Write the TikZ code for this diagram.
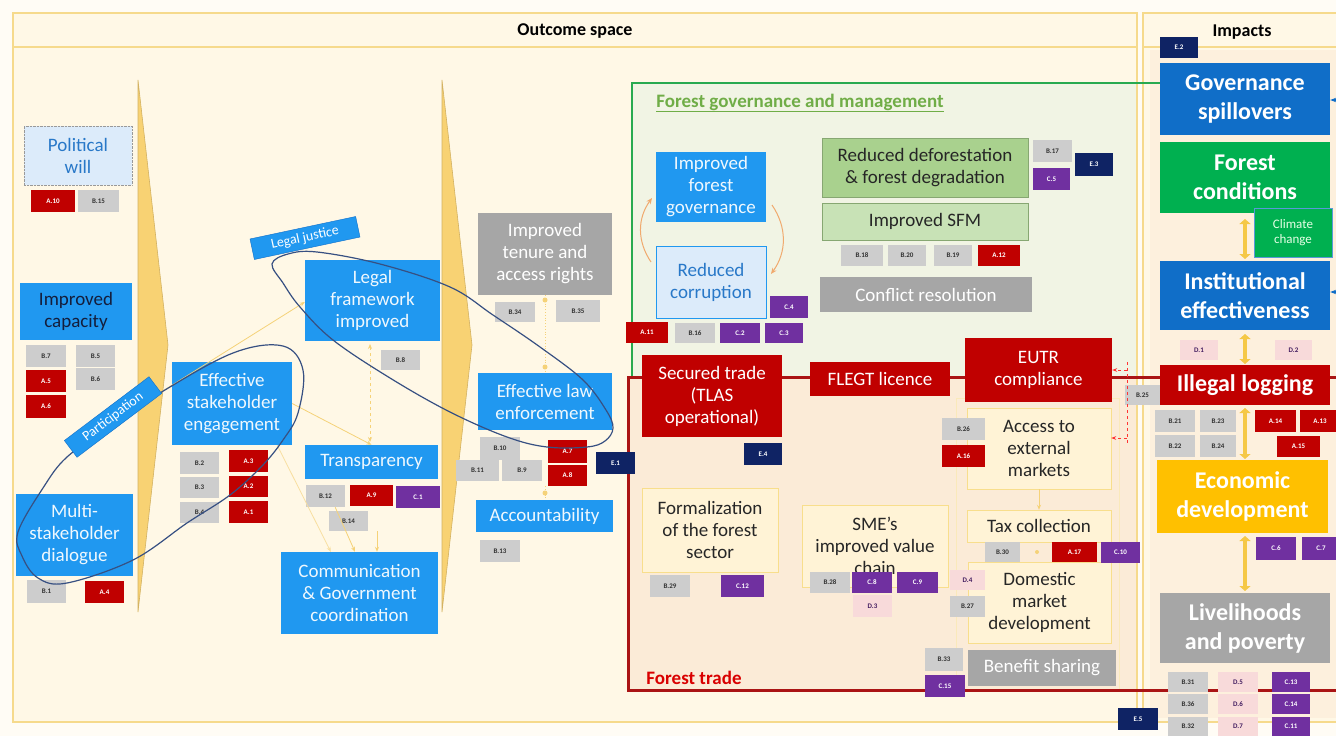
\documentclass[tikz,border=0pt]{standalone}
\usepackage{fontspec}
\setmainfont{Carlito}
\usetikzlibrary{arrows.meta,calc}
\definecolor{bgc}{RGB}{255,252,245}
\definecolor{panel}{RGB}{255,248,230}
\definecolor{gold}{RGB}{246,218,140}
\definecolor{chev}{RGB}{248,210,115}
\definecolor{cblue}{RGB}{32,152,240}
\definecolor{lblue}{RGB}{220,235,250}
\definecolor{pwblue}{RGB}{40,120,200}
\definecolor{navytxt}{RGB}{20,30,60}
\definecolor{tgray}{RGB}{205,205,205}
\definecolor{tred}{RGB}{192,0,0}
\definecolor{tpurple}{RGB}{112,48,160}
\definecolor{tnavy}{RGB}{15,35,100}
\definecolor{tpink}{RGB}{248,218,218}
\definecolor{bgray}{RGB}{166,166,166}
\definecolor{mgreen}{RGB}{169,209,142}
\definecolor{lgreen}{RGB}{200,226,182}
\definecolor{ggreen}{RGB}{40,170,80}
\definecolor{titlegreen}{RGB}{112,173,71}
\definecolor{greenbg}{RGB}{241,244,228}
\definecolor{peach}{RGB}{251,235,215}
\definecolor{cream}{RGB}{255,243,214}
\definecolor{creamb}{RGB}{248,222,140}
\definecolor{iblue}{RGB}{16,110,200}
\definecolor{igreen}{RGB}{0,176,80}
\definecolor{iyellow}{RGB}{255,192,0}
\definecolor{ellc}{RGB}{55,80,130}
\definecolor{arr}{RGB}{245,210,120}
\definecolor{orng}{RGB}{240,170,110}
\definecolor{redline}{RGB}{170,20,20}
\definecolor{dyel}{RGB}{245,200,70}
\newcommand\bx[7]{\node[#6, minimum width={(#4-#2)*1pt}, minimum height={(#5-#3)*1pt}] (#1) at ({(#2+#4)/2},{(#3+#5)/2}) {#7};}
\begin{document}
\begin{tikzpicture}[x=1pt,y=-1pt,
  box/.style={inner sep=0pt, align=center, font=\fontsize{19}{22}\selectfont},
  bl/.style={box, fill=cblue, text=white!93!cblue},
  crm/.style={box, fill=cream, draw=creamb, text=black!85},
  ib/.style={inner sep=0pt, align=center, text=white, font=\fontsize{24}{29}\selectfont\bfseries},
  tag/.style={inner sep=0pt, font=\fontsize{7}{8}\selectfont\bfseries},
  tg/.style={tag, fill=tgray, text=black!80},
  tr/.style={tag, fill=tred, text=white},
  tp/.style={tag, fill=tpurple, text=white},
  tn/.style={tag, fill=tnavy, text=white},
  tk/.style={tag, fill=tpink, text=tpurple!60!black},
  lab/.style={fill=cblue, draw=iblue, text=white, inner sep=0pt, minimum height=21pt, font=\fontsize{14}{16}\selectfont},
  ya/.style={arr, line width=0.8pt, -{Stealth[length=5pt,width=4pt]}},
  oa/.style={orng, line width=1pt, -{Stealth[length=6pt,width=5pt]}},
  dbl/.style={dyel, line width=4pt, {Triangle[width=11pt,length=5pt]}-{Triangle[width=11pt,length=5pt]}},
  ell/.style={ellc, line width=1.2pt}
]
\useasboundingbox (0,0) rectangle (1336,736);
\fill[bgc] (0,0) rectangle (1336,736);
% panels
\draw[gold, line width=2pt, fill=panel] (13,13) rectangle (1137,722);
\draw[gold, line width=1.5pt] (13,47) -- (1137,47);
\draw[gold, line width=2pt, fill=panel] (1143,13) rectangle (1350,722);
\draw[gold, line width=1.5pt] (1143,47) -- (1350,47);
\fill[peach!60!panel] (1150,50) rectangle (1340,718);
\node[font=\fontsize{18}{20}\selectfont\bfseries] (os) at (575,31) {Outcome space};
\node[font=\fontsize{18}{20}\selectfont\bfseries] (imp) at (1242,32) {Impacts};
% region fills
\fill[greenbg] (633,83) rectangle (1136,376);
\fill[peach] (629,377) rectangle (1136,690);
\draw[gold!60, line width=0.6pt] (956,398) rectangle (1119,690);
% chevrons
\draw[chev!85!black, fill=chev, line width=0.6pt] (138,80) -- (168,345) -- (138,612) -- cycle;
\draw[chev!85!black, fill=chev, line width=0.6pt] (442,80) -- (472,345) -- (442,612) -- cycle;
% group borders
\draw[ggreen, line width=1.8pt] (1160,83) -- (632,83) -- (632,376);
\draw[redline, line width=3pt] (1345,377) -- (628,377) -- (628,690) -- (1345,690);
\node[font=\fontsize{19}{22}\selectfont\bfseries, text=titlegreen] (fgm) at (800,103) {\underline{Forest governance and management}};
\node[font=\fontsize{19}{22}\selectfont\bfseries, text=red!85!black] (ftl) at (694,678) {Forest trade};
% left column
\bx{pw}{24}{126}{132}{185}{box, fill=lblue, draw=gray!80, densely dotted, text=pwblue}{Political\\will}
\bx{a10}{31}{190}{75}{212}{tr}{A.10}
\bx{b15}{78}{190}{119}{212}{tg}{B.15}
\bx{ic}{20}{283}{132}{340}{bl, text=navytxt}{Improved\\capacity}
\bx{b7}{26}{345}{66}{367}{tg}{B.7}
\bx{b5}{76}{345}{115}{367}{tg}{B.5}
\bx{a5}{26}{370}{66}{392}{tr}{A.5}
\bx{b6}{76}{368}{115}{390}{tg}{B.6}
\bx{a6}{26}{395}{66}{418}{tr}{A.6}
\bx{msd}{16}{494}{133}{576}{bl}{Multi-\\stakeholder\\dialogue}
\bx{b1}{27}{580}{66}{603}{tg}{B.1}
\bx{a4}{85}{581}{124}{603}{tr}{A.4}
% second column
\bx{ese}{172}{362}{292}{445}{bl}{Effective\\stakeholder\\engagement}
\bx{b2}{180}{452}{219}{474}{tg}{B.2}
\bx{a3}{229}{450}{268}{472}{tr}{A.3}
\bx{b3}{180}{477}{219}{498}{tg}{B.3}
\bx{a2}{229}{476}{268}{497}{tr}{A.2}
\bx{b4}{180}{502}{219}{523}{tg}{B.4}
\bx{a1}{229}{501}{268}{523}{tr}{A.1}
\bx{lfi}{305}{260}{440}{341}{bl}{Legal\\framework\\improved}
\bx{b8}{381}{350}{420}{370}{tg}{B.8}
\bx{trn}{305}{445}{438}{479}{bl}{Transparency}
\bx{b12}{306}{485}{345}{507}{tg}{B.12}
\bx{a9}{350}{485}{393}{506}{tr}{A.9}
\bx{c1}{396}{486}{440}{508}{tp}{C.1}
\bx{b14}{329}{511}{368}{531}{tg}{B.14}
\bx{cgc}{281}{552}{438}{634}{bl}{Communication\\\& Government\\coordination}
% third column
\bx{tar}{478}{213}{612}{295}{box, fill=bgray, text=white}{Improved\\tenure and\\access rights}
\bx{b34}{495}{302}{535}{322}{tg}{B.34}
\bx{b35}{556}{300}{600}{322}{tg}{B.35}
\bx{ele}{478}{373}{612}{430}{bl}{Effective law\\enforcement}
\bx{b10}{480}{437}{520}{460}{tg}{B.10}
\bx{b11}{456}{460}{499}{481}{tg}{B.11}
\bx{b9}{502}{460}{542}{481}{tg}{B.9}
\bx{a7}{548}{440}{587}{463}{tr}{A.7}
\bx{a8}{548}{465}{587}{486}{tr}{A.8}
\bx{acc}{476}{500}{613}{532}{bl}{Accountability}
\bx{b13}{480}{540}{520}{562}{tg}{B.13}
\bx{e1}{596}{452}{635}{474}{tn}{E.1}
% forest governance
\bx{ifg}{656}{152}{766}{222}{bl}{Improved\\forest\\governance}
\bx{rc}{656}{246}{766}{318}{box, fill=lblue, draw=cblue, line width=0.8pt, text=pwblue}{Reduced\\corruption}
\bx{a11}{626}{322}{668}{343}{tr}{A.11}
\bx{b16}{675}{323}{715}{343}{tg}{B.16}
\bx{c2}{720}{323}{760}{343}{tp}{C.2}
\bx{c3}{765}{323}{803}{343}{tp}{C.3}
\bx{c4}{770}{296}{808}{318}{tp}{C.4}
\bx{rdd}{822}{138}{1028}{197}{box, fill=mgreen, draw=mgreen!80!black, text=black!85}{Reduced deforestation\\\& forest degradation}
\bx{sfm}{822}{203}{1028}{240}{box, fill=lgreen, draw=mgreen!80!black, text=black!85}{Improved SFM}
\bx{b18}{841}{245}{883}{266}{tg}{B.18}
\bx{b20}{888}{245}{926}{266}{tg}{B.20}
\bx{b19}{934}{245}{972}{266}{tg}{B.19}
\bx{a12}{978}{245}{1020}{266}{tr}{A.12}
\bx{cr}{820}{277}{1032}{312}{box, fill=bgray, text=white}{Conflict resolution}
\bx{b17}{1033}{140}{1072}{162}{tg}{B.17}
\bx{c5}{1033}{168}{1070}{190}{tp}{C.5}
\bx{e3}{1075}{153}{1113}{176}{tn}{E.3}
% forest trade
\bx{st}{642}{355}{782}{437}{box, fill=tred, text=white}{Secured trade\\(TLAS\\operational)}
\bx{e4}{744}{443}{782}{465}{tn}{E.4}
\bx{fl}{810}{362}{950}{396}{box, fill=tred, text=white}{FLEGT licence}
\bx{eutr}{965}{338}{1112}{402}{box, fill=tred, text=white}{EUTR\\compliance}
\bx{aem}{967}{408}{1111}{489}{crm}{Access to\\external\\markets}
\bx{b26}{942}{418}{985}{440}{tg}{B.26}
\bx{a16}{942}{445}{985}{467}{tr}{A.16}
\bx{tax}{967}{510}{1111}{542}{crm}{Tax collection}
\bx{dmd}{968}{562}{1111}{643}{crm}{Domestic\\market\\development}
\bx{b30}{985}{542}{1020}{562}{tg}{B.30}
\bx{a17}{1052}{542}{1097}{562}{tr}{A.17}
\bx{c10}{1101}{542}{1140}{563}{tp}{C.10}
\bx{d4}{950}{570}{985}{590}{tk}{D.4}
\bx{b27}{950}{596}{985}{617}{tg}{B.27}
\bx{bs}{968}{650}{1116}{686}{box, fill=bgray, text=white}{Benefit sharing}
\bx{b33}{925}{648}{963}{671}{tg}{B.33}
\bx{c15}{925}{675}{965}{697}{tp}{C.15}
\bx{fs}{642}{488}{778}{572}{crm}{Formalization\\of the forest\\sector}
\bx{b29}{650}{575}{690}{597}{tg}{B.29}
\bx{c12}{721}{575}{764}{597}{tp}{C.12}
\bx{sme}{802}{505}{948}{587}{crm}{SME's\\improved value\\chain}
\bx{b28}{810}{572}{850}{593}{tg}{B.28}
\bx{c8}{852}{572}{892}{593}{tp}{C.8}
\bx{c9}{897}{572}{938}{593}{tp}{C.9}
\bx{d3}{853}{595}{892}{617}{tk}{D.3}
\bx{b25}{1125}{385}{1160}{405}{tg}{B.25}
% impacts
\bx{e2}{1160}{37}{1198}{58}{tn}{E.2}
\bx{gs}{1160}{63}{1330}{135}{ib, fill=iblue}{Governance\\spillovers}
\bx{fc}{1160}{142}{1330}{213}{ib, fill=igreen}{Forest\\conditions}
\bx{ie}{1160}{261}{1330}{330}{ib, fill=iblue}{Institutional\\effectiveness}
\bx{cc}{1254}{208}{1332}{257}{box, fill=igreen, draw=iblue!70, line width=1pt, text=white!90!green, font=\fontsize{13}{15}\selectfont}{Climate\\change}
\bx{d1}{1180}{340}{1218}{360}{tk}{D.1}
\bx{d2}{1275}{340}{1312}{360}{tk}{D.2}
\bx{il}{1160}{365}{1330}{405}{ib, fill=tred}{Illegal logging}
\bx{b21}{1155}{410}{1195}{432}{tg}{B.21}
\bx{b23}{1200}{410}{1236}{432}{tg}{B.23}
\bx{b22}{1155}{435}{1195}{457}{tg}{B.22}
\bx{b24}{1200}{435}{1236}{457}{tg}{B.24}
\bx{a14}{1255}{410}{1296}{432}{tr}{A.14}
\bx{a13}{1300}{410}{1340}{432}{tr}{A.13}
\bx{a15}{1277}{436}{1320}{457}{tr}{A.15}
\bx{ed}{1157}{460}{1328}{533}{ib, fill=iyellow}{Economic\\development}
\bx{c6}{1256}{537}{1296}{560}{tp}{C.6}
\bx{c7}{1302}{537}{1340}{560}{tp}{C.7}
\bx{lp}{1160}{593}{1330}{663}{ib, fill=bgray}{Livelihoods\\and poverty}
\bx{b31}{1168}{672}{1208}{692}{tg}{B.31}
\bx{b36}{1168}{694}{1208}{714}{tg}{B.36}
\bx{b32}{1168}{717}{1208}{736}{tg}{B.32}
\bx{d5}{1218}{672}{1258}{692}{tk}{D.5}
\bx{d6}{1218}{694}{1258}{714}{tk}{D.6}
\bx{d7}{1218}{717}{1258}{736}{tk}{D.7}
\bx{c13}{1272}{672}{1310}{692}{tp}{C.13}
\bx{c14}{1272}{694}{1310}{714}{tp}{C.14}
\bx{c11}{1272}{717}{1310}{736}{tp}{C.11}
\bx{e5}{1118}{708}{1158}{730}{tn}{E.5}
% impact double arrows
\draw[dbl] (1245,219) -- (1245,259);
\draw[dbl] (1245,334) -- (1245,364);
\draw[dbl] (1245,408) -- (1245,459);
\draw[dbl] (1245,536) -- (1245,591);
% right-edge arrows
\coordinate (r1) at (1345,100);
\coordinate (r2) at (1345,292);
\draw[iblue, line width=1.5pt, -{Stealth[length=6pt]}] (r1) -- (gs.east |- r1);
\draw[iblue, line width=1.5pt, -{Stealth[length=6pt]}] (r2) -- (ie.east |- r2);
% yellow thin arrows
\coordinate (ch1) at (158,394);
\draw[ya] (ch1) -- (lfi.west |- 0,302);
\draw[ya] (ese.east) -- (trn.north);
\draw[ya, dashed, {Stealth[length=5pt,width=4pt]}-{Stealth[length=5pt,width=4pt]}] (370,344) -- (370,442);
\draw[ya] (b12.south east) ++(-10,0) -- (cgc.north -| 355,0);
\draw[ya] (b14.south -| 377,0) -- (cgc.north -| 377,0);
\draw[ya, arr!70] (ese.south east) ++(-15,0) -- ($(cgc.north west)+(50,0)$);
\draw[arr, line width=0.8pt, dotted] (tar.south -| 545,0) -- (ele.north -| 545,0);
\draw[arr, line width=0.8pt, dotted] (a8.south -| 545,0) -- (acc.north -| 545,0);
\fill[arr] (545,300) circle (2.5pt) (545,367) circle (2.5pt) (545,493) circle (2.5pt);
\draw[ya] (aem.south) -- (tax.north);
\fill[arr] (1037,552) circle (2pt);
% orange arcs
\draw[oa] (651,262) to[bend left=35] (652,198);
\draw[oa] (772,205) to[bend left=35] (771,274);
% red dashed arrows
\draw[red!80, line width=0.8pt, dashed] (1127,362) -- (1127,445);
\draw[red!80, line width=0.8pt, dashed, -{Stealth[length=5pt]}] (1127,370) -- (eutr.east |- 0,370);
\draw[red!80, line width=0.8pt, dashed, -{Stealth[length=5pt]}] (1127,438) -- (aem.east |- 0,438);
% ellipses
\draw[ell] plot[smooth cycle, tension=0.6] coordinates {(18,532) (43,488) (67,457) (110,427) (160,393) (233,353) (283,346) (303,370) (298,413) (283,440) (262,466) (230,495) (187,523) (133,560) (67,583) (38,578) (22,556)};
\draw[ell] plot[smooth cycle, tension=0.6] coordinates {(272,264) (288,254) (317,252) (380,264) (450,287) (493,315) (540,347) (583,380) (606,410) (613,428) (605,441) (587,447) (547,447) (507,437) (450,412) (390,378) (333,340) (300,307) (283,283)};
\node[lab, minimum width=106pt, rotate=37] (part) at (113,417) {Participation};
\node[lab, minimum width=108pt, rotate=12] (lj) at (305,238) {Legal justice};
\end{tikzpicture}
\end{document}
